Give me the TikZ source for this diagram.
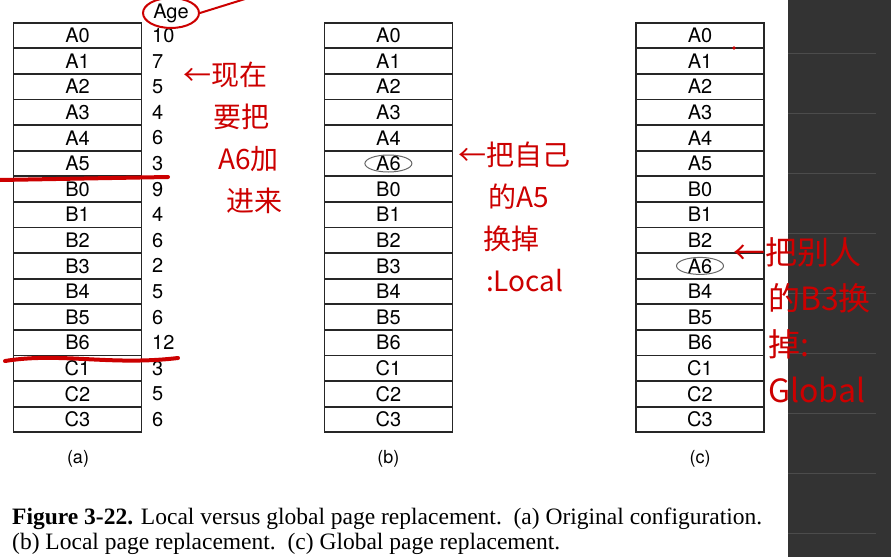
\documentclass[tikz,border=0pt]{standalone}
\usepackage{fontspec}
\setmainfont{Liberation Serif}
\setsansfont{TeX Gyre Heros}
\newfontfamily\hand{Noto Sans CJK SC}
\usetikzlibrary{arrows.meta,positioning,shapes.geometric}

\begin{document}
\begin{tikzpicture}[x=1pt,y=-1pt,>=Latex]
  \tikzstyle{frame}=[draw=black!85,line width=1.8pt,minimum width=128pt,minimum height=25.6pt,inner sep=0pt,font=\sffamily\fontsize{20}{20}\selectfont]
  \tikzstyle{agenum}=[anchor=west,inner sep=0pt,font=\sffamily\fontsize{20}{20}\selectfont]
  \tikzstyle{ring}=[draw=black!60,ellipse,line width=1pt,minimum width=47pt,minimum height=17pt,inner sep=0pt]
  \tikzstyle{tag}=[font=\sffamily\fontsize{18}{18}\selectfont]
  \tikzstyle{note}=[anchor=north west,inner sep=0pt,text=red!80!black,align=left,font=\hand\fontsize{28}{42}\selectfont]
  \tikzstyle{ink}=[red!80!black,line width=4pt,line cap=round]

  \useasboundingbox (0,0) rectangle (891,557);
  % dark strip on the right
  \fill[black!80] (788,0) rectangle (891,557);
  \foreach \y in {53,113,...,533} \draw[black!70,line width=1pt] (788,\y) -- (876,\y);

  % (a) original
  \foreach \p/\n [count=\i from 0] in {A0/10,A1/7,A2/5,A3/4,A4/6,A5/3,B0/9,B1/4,B2/6,B3/2,B4/5,B5/6,B6/12,C1/3,C2/5,C3/6}
  {
    \node[frame] (a\i) at (77.5,{35.5+25.6*\i}) {\p};
    \node[agenum] (n\i) at (152,{35.5+25.6*\i}) {\n};
  }
  % (b) local
  \foreach \p [count=\i from 0] in {A0,A1,A2,A3,A4,A6,B0,B1,B2,B3,B4,B5,B6,C1,C2,C3}
    \node[frame] (b\i) at (388.4,{35.5+25.6*\i}) {\p};
  % (c) global
  \foreach \p [count=\i from 0] in {A0,A1,A2,A3,A4,A5,B0,B1,B2,A6,B4,B5,B6,C1,C2,C3}
    \node[frame] (c\i) at (700,{35.5+25.6*\i}) {\p};
  \node[ring] (bring) at (b5) {};
  \node[ring] (cring) at (c9) {};

  \node[tag] (taga) at (78,459) {(a)};
  \node[tag] (tagb) at (388.4,459) {(b)};
  \node[tag] (tagc) at (700,459) {(c)};

  % caption
  \node[anchor=base west,inner sep=0pt,font=\fontsize{23.5}{23.5}\selectfont] (cap1) at (12,524)
    {\textbf{Figure 3-22.} Local versus global page replacement.\ \ (a) Original configuration.};
  \node[anchor=base west,inner sep=0pt,font=\fontsize{23.5}{23.5}\selectfont] (cap2) at (12,549)
    {(b) Local page replacement.\ \ (c) Global page replacement.};

  % handwritten notes
  \node[draw=red!80!black,ellipse,line width=2pt,minimum width=56pt,minimum height=30pt,inner sep=0pt,font=\sffamily\fontsize{20}{20}\selectfont] (agehead) at (171,13) {Age};
  \coordinate (agetail) at (245,-1);
  \draw[ink,line width=2pt] (agehead.east) -- (agetail);
  \draw[ink] (0,180) -- (168,177);
  \draw[ink] (5,361) .. controls (60,352) and (110,366) .. (178,358);
  \fill[red!80!black] (734,48) circle (1.8pt);

  \node[note] (note1) at (183,62) {←现在\\\hspace*{30pt}要把\\\hspace*{35pt}A6加\\\hspace*{43pt}进来};
  \node[note] (note2) at (458,142) {←把自己\\\hspace*{30pt}的A5\\\hspace*{25pt}换掉\\\hspace*{28pt}:Local};
  \node[note,font=\hand\fontsize{32}{46}\selectfont] (note3) at (733,237) {←把别人\\\hspace*{35pt}的B3换\\\hspace*{35pt}掉:\\\hspace*{35pt}Global};
\end{tikzpicture}
\end{document}
